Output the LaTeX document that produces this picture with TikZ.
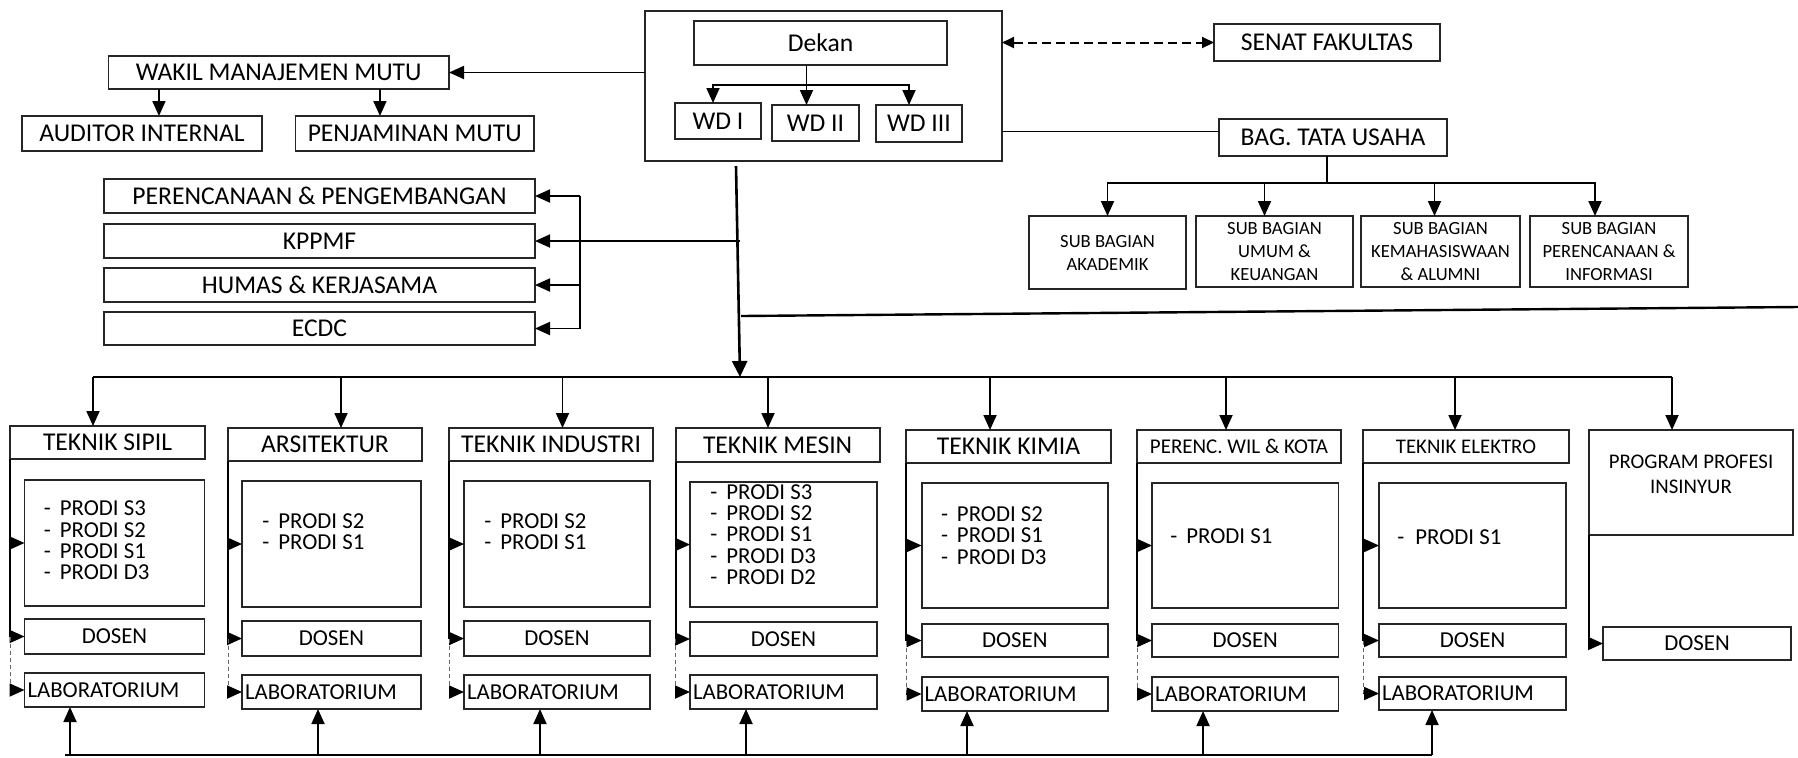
\documentclass[tikz,border=0pt]{standalone}
\usepackage{fontspec}
\setmainfont{Carlito}
\usepackage{tikz}
\usetikzlibrary{positioning, arrows.meta}
\tikzset{
  box/.style={rectangle, draw=black!85, line width=0.9pt, inner sep=1pt, outer sep=0pt, align=center, font=\fontsize{12.8}{15}\selectfont},
  subbox/.style={box, font=\fontsize{9.3}{11.5}\selectfont},
  staffbox/.style={box, font=\fontsize{11.4}{13}\selectfont},
  smallbox/.style={box, font=\fontsize{10.4}{12.5}\selectfont},
  labbox/.style={staffbox, align=left, inner xsep=1.5pt, text width=#1},
  prodilist/.style={anchor=west, align=left, inner sep=0pt, font=\fontsize{11.4}{10.7}\selectfont},
  boxsize/.style 2 args={minimum width=#1*0.5pt, minimum height=#2*0.5pt},
  arrow/.style={-{Triangle[length=7.5pt, width=6.5pt]}, line width=0.9pt},
  dashlink/.style={dash pattern=on 2pt off 1.5pt, line width=0.5pt, black!60},
}

\begin{document}
\begin{tikzpicture}[x=0.5pt, y=-0.5pt]
  \useasboundingbox (0,0) rectangle (1798,757);

  % pimpinan fakultas
  \node[box, boxsize={357}{150}] (pimpinan) at (823.5,86) {};
  \node[box, boxsize={253}{44}] (dekan) at (820.5,43) {Dekan};
  \node[box, boxsize={86}{36}] (wd1) at (718,121) {WD I};
  \node[box, boxsize={87}{36}] (wd2) at (815.5,123) {WD II};
  \node[box, boxsize={86}{37}] (wd3) at (919,123.5) {WD III};

  \node[box, boxsize={226}{37}] (senat) at (1327,42.5) {SENAT FAKULTAS};
  \node[box, boxsize={228}{37}] (bag) at (1333,137.5) {BAG. TATA USAHA};

  \node[subbox, boxsize={157}{73}] (sbakad) at (1107.5,252.5) {SUB BAGIAN\\AKADEMIK};
  \node[subbox, boxsize={157}{71}] (sbumum) at (1274.5,251.5) {SUB BAGIAN\\UMUM \&\\KEUANGAN};
  \node[subbox, boxsize={159}{71}] (sbmhs) at (1440.5,251.5) {SUB BAGIAN\\KEMAHASISWAAN\\\& ALUMNI};
  \node[subbox, boxsize={158}{71}] (sbinfo) at (1609,251.5) {SUB BAGIAN\\PERENCANAAN \&\\INFORMASI};

  % mutu dan unit staf
  \node[box, boxsize={340.5}{33}] (wakil) at (278.75,72.5) {WAKIL MANAJEMEN MUTU};
  \node[box, boxsize={240}{35}] (auditor) at (142,133.5) {AUDITOR INTERNAL};
  \node[box, boxsize={238.5}{35}] (penjaminan) at (414.75,133.5) {PENJAMINAN MUTU};

  \node[box, boxsize={431}{34}] (renbang) at (319.5,196) {PERENCANAAN \& PENGEMBANGAN};
  \node[box, boxsize={431}{34}] (kppmf) at (319.5,241) {KPPMF};
  \node[box, boxsize={431}{34}] (humas) at (319.5,285) {HUMAS \& KERJASAMA};
  \node[box, boxsize={431}{33}] (ecdc) at (319.5,328.5) {ECDC};

  \coordinate (wdfork) at (806.5,85);
  \draw[line width=0.9pt] (wdfork |- dekan.south) -- (wdfork);
  \draw[arrow] (wdfork) -| ([xshift=-2.5pt]wd1.north);
  \draw[arrow] (wdfork) -- (wdfork |- wd2.north);
  \draw[arrow] (wdfork) -| ([xshift=-5pt]wd3.north);

  \draw[arrow] (pimpinan.west |- wakil.east) -- (wakil.east);
  \draw[arrow] ([xshift=-59.9pt]wakil.south) -- ([xshift=-59.9pt]wakil.south |- auditor.north);
  \draw[arrow] ([xshift=50.6pt]wakil.south) -- ([xshift=50.6pt]wakil.south |- penjaminan.north);

  \draw[{Triangle[length=6pt, width=5.5pt]}-{Triangle[length=6pt, width=5.5pt]}, line width=1pt, dash pattern=on 4.5pt off 2.5pt] (pimpinan.east |- senat.west) -- (senat.west);
  \draw[line width=0.9pt] ([yshift=3pt]bag.west) -- ([yshift=3pt]bag.west -| pimpinan.east);

  \coordinate (tufork) at (1327,183);
  \draw[line width=0.9pt] (tufork |- bag.south) -- (tufork);
  \draw[arrow] (tufork) -| (sbakad.north);
  \draw[arrow] (tufork) -| ([xshift=-5pt]sbumum.north);
  \draw[arrow] (tufork) -| ([xshift=-3pt]sbmhs.north);
  \draw[arrow] (tufork) -| ([xshift=-7pt]sbinfo.north);

  \coordinate (stafbar) at (580,196);
  \draw[arrow] (stafbar) -- (renbang.east);
  \draw[line width=0.9pt] (stafbar) -- (stafbar |- ecdc.east);
  \draw[arrow] (stafbar |- humas.east) -- (humas.east);
  \draw[arrow] (stafbar |- ecdc.east) -- (ecdc.east);

  % garis komando ke jurusan
  \coordinate (trunktop) at (736,166);
  \coordinate (trunkbot) at (740,377);
  \coordinate (slantstart) at (741,316);
  \coordinate (slantend) at (1798,307);
  \draw[-{Triangle[length=8pt, width=7.5pt]}, line width=1.3pt] (trunktop) -- (trunkbot);
  \draw[arrow] (kppmf.east -| trunkbot) -- (kppmf.east);
  \draw[line width=1.2pt] (slantstart) -- (slantend);

  % jurusan
  \node[box, boxsize={195}{33}] (sipil) at (107.5,442.5) {TEKNIK SIPIL};
  \node[box, boxsize={180}{126}] (sipilprodi) at (114.5,543) {};
  \node[staffbox, boxsize={180}{35}] (sipildosen) at (114.5,636.5) {DOSEN};
  \node[labbox=87pt, boxsize={180}{34}] (sipillab) at (114.5,690) {LABORATORIUM};
  \node[prodilist] (sipillist) at (43.5,540.5) {\makebox[8pt][l]{-}PRODI S3\\\makebox[8pt][l]{-}PRODI S2\\\makebox[8pt][l]{-}PRODI S1\\\makebox[8pt][l]{-}PRODI D3};

  \node[box, boxsize={194}{33}] (arsi) at (325,444.5) {ARSITEKTUR};
  \node[box, boxsize={179}{126}] (arsiprodi) at (331.5,544) {};
  \node[staffbox, boxsize={179}{35}] (arsidosen) at (331.5,638.5) {DOSEN};
  \node[labbox=86.5pt, boxsize={179}{34}] (arsilab) at (331.5,692) {LABORATORIUM};
  \node[prodilist] (arsilist) at (262,531.5) {\makebox[8pt][l]{-}PRODI S2\\\makebox[8pt][l]{-}PRODI S1};

  \node[box, boxsize={204}{33}] (indus) at (551,444.5) {TEKNIK INDUSTRI};
  \node[box, boxsize={186}{126}] (indusprodi) at (557,544) {};
  \node[staffbox, boxsize={186}{35}] (indusdosen) at (557,638.5) {DOSEN};
  \node[labbox=90pt, boxsize={186}{34}] (induslab) at (557,692) {LABORATORIUM};
  \node[prodilist] (induslist) at (484,531.5) {\makebox[8pt][l]{-}PRODI S2\\\makebox[8pt][l]{-}PRODI S1};

  \node[box, boxsize={204}{34}] (mesin) at (777.6,445) {TEKNIK MESIN};
  \node[box, boxsize={187}{125}] (mesinprodi) at (783.5,544.5) {};
  \node[staffbox, boxsize={187}{34}] (mesindosen) at (783.5,639) {DOSEN};
  \node[labbox=90.5pt, boxsize={187}{34}] (mesinlab) at (783.5,692) {LABORATORIUM};
  \node[prodilist] (mesinlist) at (710,534.5) {\makebox[8pt][l]{-}PRODI S3\\\makebox[8pt][l]{-}PRODI S2\\\makebox[8pt][l]{-}PRODI S1\\\makebox[8pt][l]{-}PRODI D3\\\makebox[8pt][l]{-}PRODI D2};

  \node[box, boxsize={205}{33}] (kimia) at (1008.5,446.5) {TEKNIK KIMIA};
  \node[box, boxsize={186.4}{125}] (kimiaprodi) at (1014.8,545.5) {};
  \node[staffbox, boxsize={186.4}{33}] (kimiadosen) at (1014.8,640.5) {DOSEN};
  \node[labbox=90.2pt, boxsize={186.4}{34}] (kimialab) at (1014.8,694) {LABORATORIUM};
  \node[prodilist] (kimialist) at (940.6,535.5) {\makebox[8pt][l]{-}PRODI S2\\\makebox[8pt][l]{-}PRODI S1\\\makebox[8pt][l]{-}PRODI D3};

  \node[box, boxsize={204}{33}, font=\fontsize{10.5}{12.5}\selectfont] (pwk) at (1239,446.5) {PERENC. WIL \& KOTA};
  \node[box, boxsize={186.5}{125}] (pwkprodi) at (1245.25,545.5) {};
  \node[staffbox, boxsize={186.5}{33}] (pwkdosen) at (1245.25,640.5) {DOSEN};
  \node[labbox=90.25pt, boxsize={186.5}{34}] (pwklab) at (1245.25,694) {LABORATORIUM};
  \node[prodilist] (pwklist) at (1170,536) {\makebox[8pt][l]{-}PRODI S1};

  \node[smallbox, boxsize={206}{33}] (elektro) at (1466,446.5) {TEKNIK ELEKTRO};
  \node[box, boxsize={187}{125}] (elektroprodi) at (1472.5,545.5) {};
  \node[staffbox, boxsize={187}{33}] (elektrodosen) at (1472.5,640.5) {DOSEN};
  \node[labbox=90.5pt, boxsize={187}{33}] (elektrolab) at (1472.5,693.5) {LABORATORIUM};
  \node[prodilist] (elektrolist) at (1397,537) {\makebox[9pt][l]{-}PRODI S1};

  \node[box, boxsize={204}{105}] (ppi) at (1691,482.5) {};
  \node[smallbox, draw=none] (ppitext) at (1691,474.5) {PROGRAM PROFESI\\INSINYUR};
  \node[staffbox, boxsize={188}{33}] (ppidosen) at (1697,643.5) {DOSEN};

  % bus atas
  \coordinate (busL) at (93,377);
  \coordinate (busR) at (1672,377);
  \draw[line width=0.9pt] (busL) -- (busR);
  \draw[arrow] (busL) -- (busL |- sipil.north);
  \draw[arrow] ([xshift=8pt]arsi.north |- busL) -- ([xshift=8pt]arsi.north);
  \draw[arrow] ([xshift=5.75pt]indus.north |- busL) -- ([xshift=5.75pt]indus.north);
  \draw[arrow] ([xshift=-4.8pt]mesin.north |- busL) -- ([xshift=-4.8pt]mesin.north);
  \draw[arrow] ([xshift=-9.25pt]kimia.north |- busL) -- ([xshift=-9.25pt]kimia.north);
  \draw[arrow] ([xshift=-6.5pt]pwk.north |- busL) -- ([xshift=-6.5pt]pwk.north);
  \draw[arrow] ([xshift=-5.5pt]elektro.north |- busL) -- ([xshift=-5.5pt]elektro.north);
  \draw[arrow] (busR) -- (busR |- ppi.north);

  % garis dalam jurusan
  \draw[line width=0.9pt] (sipil.south west) -- (sipil.south west |- sipildosen.west);
  \draw[arrow] (sipil.south west |- sipilprodi.west) -- (sipilprodi.west);
  \draw[arrow] (sipil.south west |- sipildosen.west) -- (sipildosen.west);
  \draw[dashlink] (sipil.south west |- sipildosen.west) -- (sipil.south west |- sipillab.west);
  \draw[arrow] (sipil.south west |- sipillab.west) -- (sipillab.west);

  \draw[line width=0.9pt] (arsi.south west) -- (arsi.south west |- arsidosen.west);
  \draw[arrow] (arsi.south west |- arsiprodi.west) -- (arsiprodi.west);
  \draw[arrow] (arsi.south west |- arsidosen.west) -- (arsidosen.west);
  \draw[dashlink] (arsi.south west |- arsidosen.west) -- (arsi.south west |- arsilab.west);
  \draw[arrow] (arsi.south west |- arsilab.west) -- (arsilab.west);

  \draw[line width=0.9pt] (indus.south west) -- (indus.south west |- indusdosen.west);
  \draw[arrow] (indus.south west |- indusprodi.west) -- (indusprodi.west);
  \draw[arrow] (indus.south west |- indusdosen.west) -- (indusdosen.west);
  \draw[dashlink] (indus.south west |- indusdosen.west) -- (indus.south west |- induslab.west);
  \draw[arrow] (indus.south west |- induslab.west) -- (induslab.west);

  \draw[line width=0.9pt] (mesin.south west) -- (mesin.south west |- mesindosen.west);
  \draw[arrow] (mesin.south west |- mesinprodi.west) -- (mesinprodi.west);
  \draw[arrow] (mesin.south west |- mesindosen.west) -- (mesindosen.west);
  \draw[dashlink] (mesin.south west |- mesindosen.west) -- (mesin.south west |- mesinlab.west);
  \draw[arrow] (mesin.south west |- mesinlab.west) -- (mesinlab.west);

  \draw[line width=0.9pt] (kimia.south west) -- (kimia.south west |- kimiadosen.west);
  \draw[arrow] (kimia.south west |- kimiaprodi.west) -- (kimiaprodi.west);
  \draw[arrow] (kimia.south west |- kimiadosen.west) -- (kimiadosen.west);
  \draw[dashlink] (kimia.south west |- kimiadosen.west) -- (kimia.south west |- kimialab.west);
  \draw[arrow] (kimia.south west |- kimialab.west) -- (kimialab.west);

  \draw[line width=0.9pt] (pwk.south west) -- (pwk.south west |- pwkdosen.west);
  \draw[arrow] (pwk.south west |- pwkprodi.west) -- (pwkprodi.west);
  \draw[arrow] (pwk.south west |- pwkdosen.west) -- (pwkdosen.west);
  \draw[dashlink] (pwk.south west |- pwkdosen.west) -- (pwk.south west |- pwklab.west);
  \draw[arrow] (pwk.south west |- pwklab.west) -- (pwklab.west);

  \draw[line width=0.9pt] (elektro.south west) -- (elektro.south west |- elektrodosen.west);
  \draw[arrow] (elektro.south west |- elektroprodi.west) -- (elektroprodi.west);
  \draw[arrow] (elektro.south west |- elektrodosen.west) -- (elektrodosen.west);
  \draw[dashlink] (elektro.south west |- elektrodosen.west) -- (elektro.south west |- elektrolab.west);
  \draw[arrow] (elektro.south west |- elektrolab.west) -- (elektrolab.west);

  \draw[arrow] (ppi.south west) |- (ppidosen.west);

  % bus laboratorium
  \coordinate (labbusL) at (65,755);
  \coordinate (labbusR) at (1432,755);
  \draw[line width=0.9pt] (labbusL) -- (labbusR);
  \draw[arrow] ([xshift=-22.25pt]sipillab.south |- labbusL) -- ([xshift=-22.25pt]sipillab.south);
  \draw[arrow] ([xshift=-6.75pt]arsilab.south |- labbusL) -- ([xshift=-6.75pt]arsilab.south);
  \draw[arrow] ([xshift=-8.5pt]induslab.south |- labbusL) -- ([xshift=-8.5pt]induslab.south);
  \draw[arrow] ([xshift=-18.75pt]mesinlab.south |- labbusL) -- ([xshift=-18.75pt]mesinlab.south);
  \draw[arrow] ([xshift=-23.9pt]kimialab.south |- labbusL) -- ([xshift=-23.9pt]kimialab.south);
  \draw[arrow] ([xshift=-21.1pt]pwklab.south |- labbusL) -- ([xshift=-21.1pt]pwklab.south);
  \draw[arrow] (labbusR) -- (labbusR |- elektrolab.south);
\end{tikzpicture}
\end{document}
